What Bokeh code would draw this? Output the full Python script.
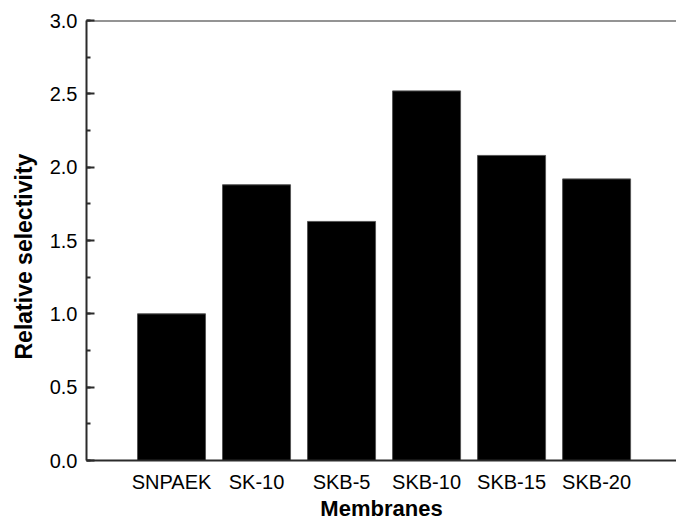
from bokeh.plotting import figure
from bokeh.models import Range1d, FixedTicker, SingleIntervalTicker, Span, NumeralTickFormatter, Title
from bokeh.embed import file_html
from bokeh.resources import INLINE

membranes = ["SNPAEK", "SK-10", "SKB-5", "SKB-10", "SKB-15", "SKB-20"]
positions = [1, 2, 3, 4, 5, 6]
selectivity = [1.00, 1.88, 1.63, 2.52, 2.08, 1.92]

p = figure(width=676, height=523, output_backend="svg", toolbar_location=None,
           x_range=Range1d(0.0, 6.94), y_range=Range1d(0, 3.0),
           min_border_left=86, min_border_right=0, min_border_top=20, min_border_bottom=61)

p.vbar(x=positions, top=selectivity, width=0.8, bottom=0,
       fill_color="black", line_color="#555555", line_width=1)

p.outline_line_color = None
p.grid.visible = False
p.background_fill_color = "white"
p.border_fill_color = "white"

axis_col = "#2b2b2b"
font = "Liberation Sans"

# x axis
p.xaxis.ticker = FixedTicker(ticks=positions)
p.xaxis.major_label_overrides = {pos: name for pos, name in zip(positions, membranes)}
p.xaxis.major_tick_line_color = None
p.xaxis.minor_tick_line_color = None
p.xaxis.axis_line_width = 2
p.xaxis.axis_line_color = axis_col
p.xaxis.axis_label = "Membranes"

# y axis
p.yaxis.ticker = SingleIntervalTicker(interval=0.5, num_minor_ticks=2)
p.yaxis.formatter = NumeralTickFormatter(format="0.0")
p.yaxis.major_tick_in = 8
p.yaxis.major_tick_out = 0
p.yaxis.minor_tick_in = 4
p.yaxis.minor_tick_out = 0
p.yaxis.major_tick_line_width = 2
p.yaxis.minor_tick_line_width = 2
p.yaxis.major_tick_line_color = axis_col
p.yaxis.minor_tick_line_color = axis_col
p.yaxis.axis_line_width = 2
p.yaxis.axis_line_color = axis_col
p.yaxis.major_label_standoff = 9

for ax in (p.xaxis, p.yaxis):
    ax.major_label_text_font = font
    ax.major_label_text_font_size = "20px"
    ax.major_label_text_color = "black"
    ax.axis_label_text_font = font
    ax.axis_label_text_font_size = "22px"
    ax.axis_label_text_font_style = "bold"
    ax.axis_label_text_color = "black"

p.xaxis.major_label_standoff = 4
p.xaxis.axis_label_standoff = 0

ytitle = Title(text="Relative selectivity", align="left", offset=101,
               vertical_align="top",
               text_font=font, text_font_size="23px", text_font_style="bold",
               text_color="black", standoff=16)
p.add_layout(ytitle, "left")

top_line = Span(location=3.0, dimension="width", line_color=axis_col, line_width=2)
p.add_layout(top_line)

open("out.html", "w").write(file_html(p, INLINE))
